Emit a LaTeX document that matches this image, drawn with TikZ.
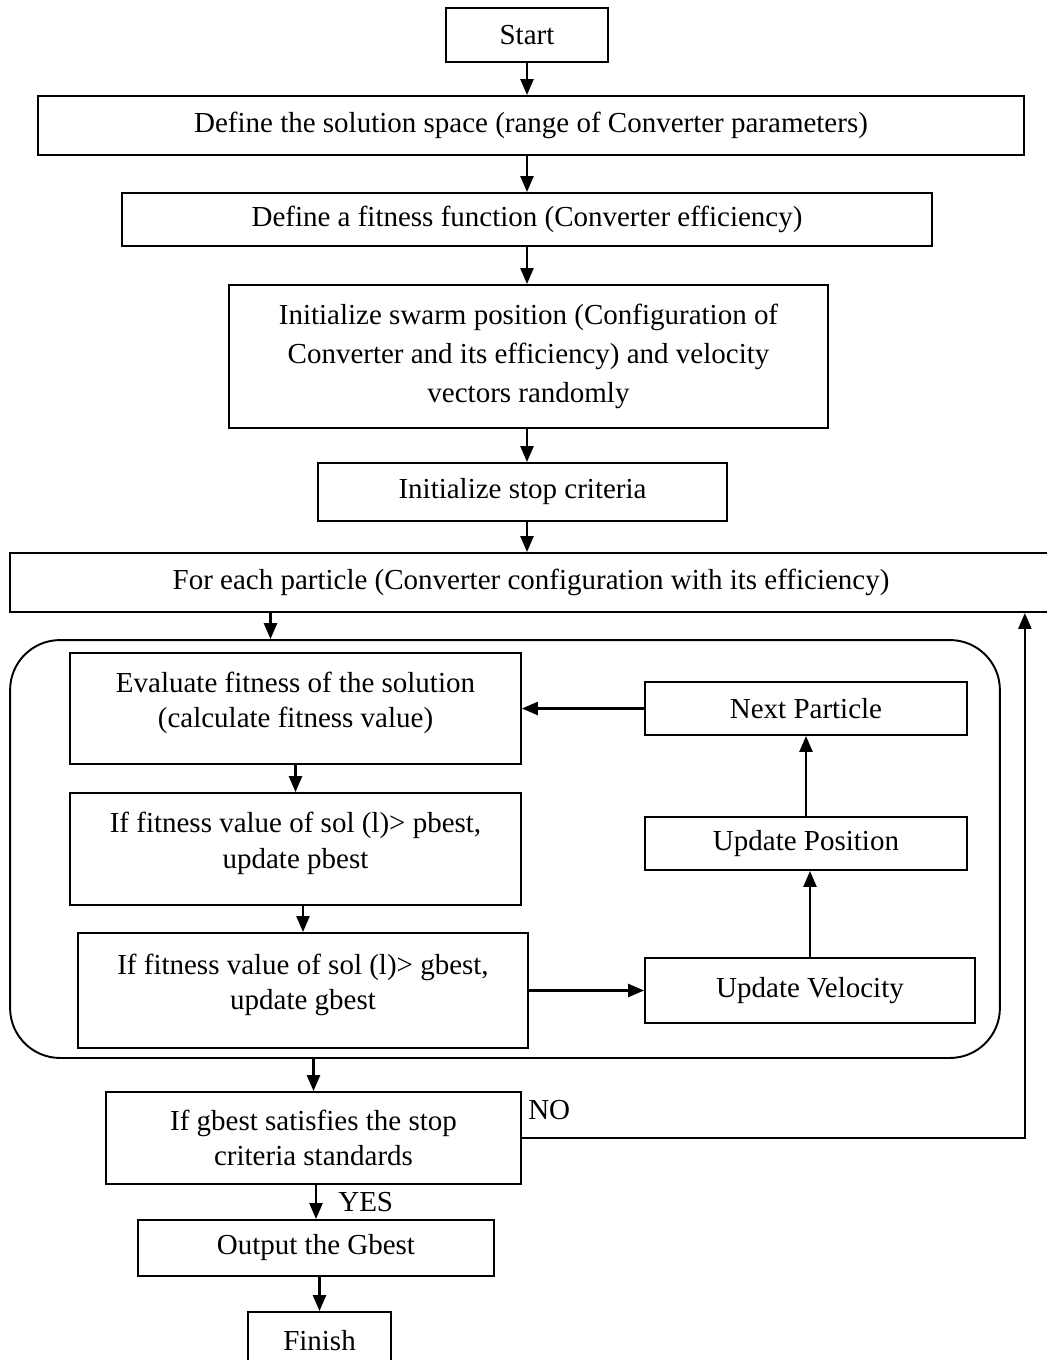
\documentclass[tikz,border=0pt]{standalone}
\usepackage{fontspec}
\setmainfont{Liberation Serif}
\usetikzlibrary{arrows.meta,positioning}
\tikzset{
	blk/.style={draw,line width=1.1pt,align=center,inner sep=2pt,font=\fontsize{16.5}{20}\selectfont},
	loopbox/.style={draw,line width=1.1pt,rounded corners=1cm},
	arr/.style={->,line width=1.4pt},
	lbl/.style={font=\fontsize{16.5}{20}\selectfont,inner sep=0pt}
}

\begin{document}
\begin{tikzpicture}[x=0.02cm,y=-0.02cm,>={Triangle[length=3.2mm,width=2.6mm]}]
		\useasboundingbox (0,0) rectangle (1047,1360);
		    \node[blk,minimum width=3.24cm,minimum height=1.08cm] (start) at (527,35)       {Start};
				\node[blk,minimum width=19.72cm,minimum height=1.18cm] (space) at (531,125.5)   {Define the solution space (range of Converter parameters)};
				\node[blk,minimum width=16.2cm,minimum height=1.06cm] (fitfun) at (527,219.5)   {Define a fitness function (Converter efficiency)};
				\node[blk,minimum width=11.98cm,minimum height=2.86cm,font=\fontsize{16.5}{22}\selectfont] (initswarm) at (528.5,356.5)
				  {Initialize swarm position (Configuration of\\Converter and its efficiency) and velocity\\vectors randomly};
				\node[blk,minimum width=8.18cm,minimum height=1.16cm] (initstop) at (522.5,492)  {Initialize stop criteria};
				\node[blk,minimum width=20.84cm,minimum height=1.18cm] (foreach) at (531,582.5)  {For each particle (Converter configuration with its efficiency)};
				% particle loop
				\node[loopbox,minimum width=19.8cm,minimum height=8.36cm] (loop) at (505,849)     {};
				\node[blk,minimum width=9.02cm,minimum height=2.22cm] (evalfit) at (295.5,708.5)
				  {Evaluate fitness of the solution\\(calculate fitness value)\\[-10pt]\mbox{}};
				\node[blk,minimum width=9.02cm,minimum height=2.24cm] (pbest) at (295.5,849)
				  {If fitness value of sol (l)> pbest,\\update pbest\\[-10pt]\mbox{}};
				\node[blk,minimum width=9.0cm,minimum height=2.3cm] (gbest) at (303,990.5)
				  {If fitness value of sol (l)> gbest,\\update gbest\\[-10pt]\mbox{}};
				\node[blk,minimum width=6.44cm,minimum height=1.06cm] (nextp) at (806,708.5)     {Next Particle};
				\node[blk,minimum width=6.44cm,minimum height=1.06cm] (updpos) at (806,843.5)    {Update Position};
				\node[blk,minimum width=6.6cm,minimum height=1.3cm] (updvel) at (810,990.5)      {Update Velocity};
				% end of loop
				\node[blk,minimum width=8.3cm,minimum height=1.84cm] (check) at (313.5,1138)      {If gbest satisfies the stop\\criteria standards};
				\node[blk,minimum width=7.12cm,minimum height=1.12cm] (output) at (316,1248)     {Output the Gbest};
				\node[blk,minimum width=2.86cm,minimum height=1.16cm] (finish) at (319.5,1341)   {Finish};
				\coordinate (noturn) at ([xshift=0.48cm]loop.east);
				\node[lbl,anchor=south west] (no) at ([xshift=0.12cm,yshift=0.36cm]check.east)    {NO};
				\node[lbl,anchor=west] (yes) at ([xshift=0.44cm,yshift=0.34cm]output.north)       {YES};

		    \draw[arr] (start.south) -- (start.south |- space.north);
		    \draw[arr] (fitfun.north |- space.south) -- (fitfun.north);
		    \draw[arr] (fitfun.south) -- (fitfun.south |- initswarm.north);
		    \draw[arr] (initswarm.south -| fitfun.south) -- (fitfun.south |- initstop.north);
		    \draw[arr] (fitfun.south |- initstop.south) -- (fitfun.south |- foreach.north);
		    \draw[arr] ([xshift=-0.5cm]evalfit.north |- foreach.south) -- ([xshift=-0.5cm]evalfit.north |- loop.north);
		    \draw[arr] (evalfit.south) -- (pbest.north);
		    \draw[arr] (gbest.north |- pbest.south) -- (gbest.north);
		    \draw[arr] (gbest.east) -- (gbest.east -| updvel.west);
		    \draw[arr] (updvel.north) -- (updvel.north |- updpos.south);
		    \draw[arr] (updpos.north) -- (nextp.south);
		    \draw[arr] (nextp.west) -- (nextp.west -| evalfit.east);
		    \draw[arr] (check.north |- loop.south) -- (check.north);
		    \draw[arr] (output.north |- check.south) -- (output.north);
		    \draw[arr] (finish.north |- output.south) -- (finish.north);
		    \draw[arr] (check.east) -| (noturn |- foreach.south);
		  \end{tikzpicture}
\end{document}
